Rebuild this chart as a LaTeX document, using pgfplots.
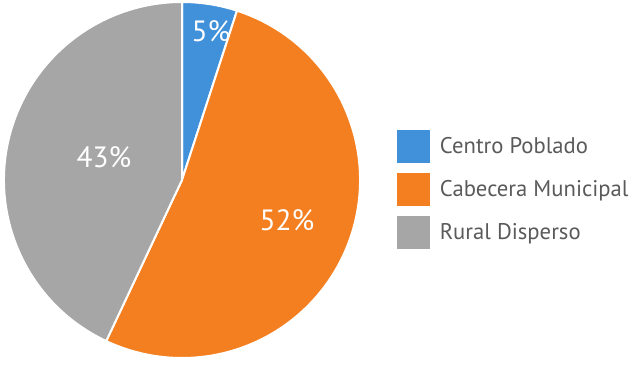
\documentclass[border=0pt]{standalone}
\usepackage{pgfplots}
\usepackage{pgfplotstable}
\usepackage{fontspec}
\setmainfont{PT Sans}
\pgfplotsset{compat=1.18}
\definecolor{cblue}{HTML}{4190DA}
\definecolor{corange}{HTML}{F47F20}
\definecolor{cgrey}{HTML}{A6A6A6}
\definecolor{ctext}{HTML}{5A5A5A}
\pgfplotstableread{
label value
{Centro Poblado} 5
{Cabecera Municipal} 52
{Rural Disperso} 43
}\piedata
\begin{document}
\begin{tikzpicture}
\pgfplotstablegetelem{0}{value}\of\piedata \let\vA\pgfplotsretval
\pgfplotstablegetelem{1}{value}\of\piedata \let\vB\pgfplotsretval
\pgfplotstablegetelem{2}{value}\of\piedata \let\vC\pgfplotsretval
\pgfmathsetmacro{\aA}{90}
\pgfmathsetmacro{\aB}{\aA-3.6*\vA}
\pgfmathsetmacro{\aC}{\aB-3.6*\vB}
\pgfmathsetmacro{\aD}{\aC-3.6*\vC}
\def\R{133.5pt}
\begin{axis}[
  width=477pt, height=273.75pt, scale only axis,
  xmin=0, xmax=636, ymin=0, ymax=365,
  hide axis, clip=false,
  legend style={at={(axis cs:397,235)}, anchor=north west, draw=none, fill=none,
    inner sep=0pt, row sep=7.2pt, font=\fontsize{17}{19}\selectfont\color{ctext},
    cells={anchor=west}},
  legend cell align=left,
  legend image code/.code={\fill[#1, draw=none] (0pt,-12.4pt) rectangle (24.75pt,12.4pt);
    \path[draw=none, fill=none] (0pt,0pt) -- (30pt,0pt);},
]
\coordinate (BL) at (axis cs:0,0);
\coordinate (TR) at (axis cs:636,365);
\fill[cblue, draw=white, line width=1.5pt] (axis cs:182,185) -- ++(\aA:\R) arc[start angle=\aA, end angle=\aB, radius=\R] -- cycle;
\fill[corange, draw=white, line width=1.5pt] (axis cs:182,185) -- ++(\aB:\R) arc[start angle=\aB, end angle=\aC, radius=\R] -- cycle;
\fill[cgrey, draw=white, line width=1.5pt] (axis cs:182,185) -- ++(\aC:\R) arc[start angle=\aC, end angle=\aD, radius=\R] -- cycle;
\node[text=white, font=\fontsize{22}{24}\selectfont] at (axis cs:211,334) {\vA\%};
\node[text=white, font=\fontsize{22}{24}\selectfont] at (axis cs:287,145) {\vB\%};
\node[text=white, font=\fontsize{22}{24}\selectfont] at (axis cs:104,208) {\vC\%};
\addlegendimage{fill=cblue}
\addlegendentry{Centro Poblado}
\addlegendimage{fill=corange}
\addlegendentry{Cabecera Municipal}
\addlegendimage{fill=cgrey}
\addlegendentry{Rural Disperso}
\end{axis}
\pgfresetboundingbox
\path[use as bounding box] (BL) rectangle (TR);
\end{tikzpicture}
\end{document}
